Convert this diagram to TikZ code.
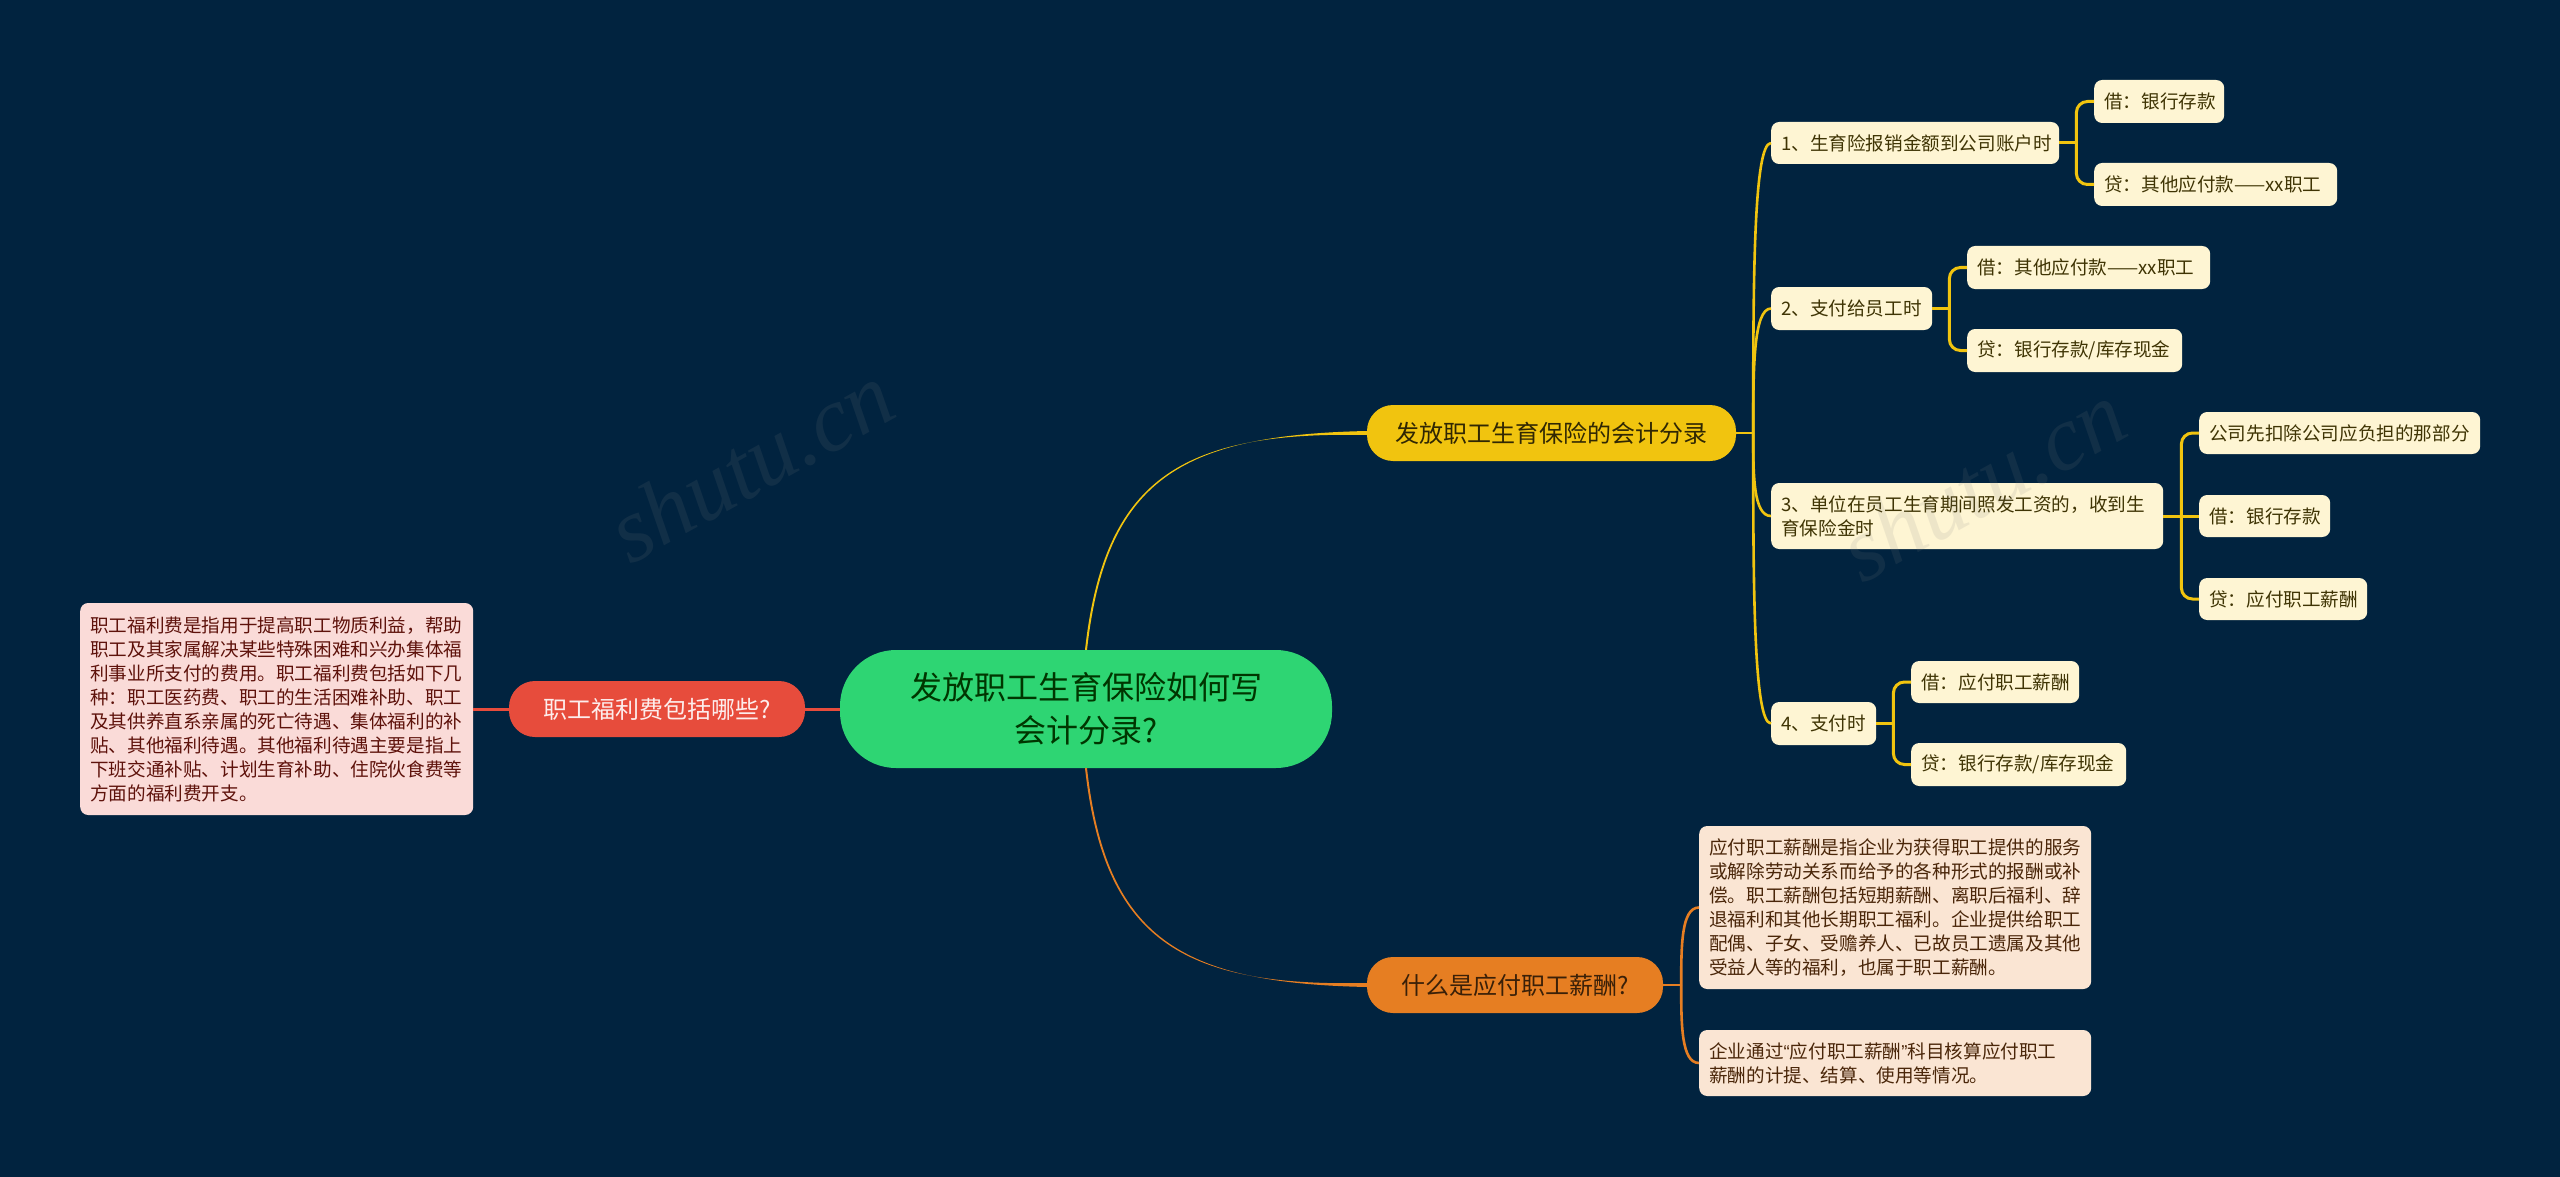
\documentclass[tikz,border=0pt]{standalone}
\usepackage{fontspec}
\usetikzlibrary{calc}
\setmainfont{Noto Sans CJK SC}
\newfontfamily\quotefont{Liberation Sans}
\newfontfamily\markfont{Liberation Serif}
\definecolor{bgc}{HTML}{01233F}
\definecolor{cgreen}{HTML}{2ED573}
\definecolor{cyellow}{HTML}{F1C40F}
\definecolor{corange}{HTML}{E67E22}
\definecolor{cred}{HTML}{E74C3C}
\definecolor{lyellow}{HTML}{FEF5D3}
\definecolor{lorange}{HTML}{FAE5D3}
\definecolor{lred}{HTML}{FADBD8}
\definecolor{tyellow}{HTML}{3F3404}
\definecolor{torange}{HTML}{4A2609}
\definecolor{tred}{HTML}{5E120B}
\tikzset{
  x=1pt,y=-1pt,
  rootnode/.style={fill=cgreen,text=black!30!green!30!black,rounded corners=56pt,align=center,inner sep=0pt,
     font=\fontsize{32}{43}\selectfont},
  pill/.style={rounded corners=26pt,align=center,inner sep=0pt,font=\fontsize{24}{30}\selectfont},
  leaf/.style={anchor=west,rounded corners=8pt,inner xsep=10pt,inner ysep=0pt,align=left,
     font=\fontsize{18.6}{24}\selectfont},
  yleaf/.style={leaf,fill=lyellow,text=tyellow},
  oleaf/.style={leaf,fill=lorange,text=torange},
  rleaf/.style={leaf,fill=lred,text=tred},
  ylink/.style={draw=cyellow,line width=3pt,rounded corners=11pt},
  olink/.style={draw=corange,line width=2.6pt},
  rlink/.style={draw=cred,line width=3pt},
  trunk/.style={draw=cyellow,line width=2.6pt},
  wmark/.style={rotate=29,text=gray,opacity=0.13,font=\markfont\fontsize{92}{92}\selectfont}
}
\begin{document}
\begin{tikzpicture}
\useasboundingbox (0,0) rectangle (2560,1177);
\fill[bgc] (0,0) rectangle (2560,1177);

% main nodes
\node[rootnode,minimum width=492pt,minimum height=118pt] (c) at (1086,709) {发放职工生育保险如何写\\会计分录?};
\node[pill,fill=cyellow,text=black!80!cyellow,minimum width=369pt,minimum height=56pt] (y) at (1551.5,433) {发放职工生育保险的会计分录};
\node[pill,fill=corange,text=black!75!corange,minimum width=296pt,minimum height=56pt] (o) at (1515,985) {什么是应付职工薪酬?};
\node[pill,fill=cred,text=white!90!cred,minimum width=296pt,minimum height=56pt] (r) at (657,709) {职工福利费包括哪些?};

% yellow leaves
\node[yleaf,text width=268pt,minimum height=42pt] (n1) at (1771,143) {1、生育险报销金额到公司账户时};
\node[yleaf,text width=110pt,minimum height=43pt] (n1a) at (2094,101.5) {借：银行存款};
\node[yleaf,text width=223pt,minimum height=43pt] (n1b) at (2094,184.5) {贷：其他应付款——xx职工};
\node[yleaf,text width=141pt,minimum height=43pt] (n2) at (1771,308.5) {2、支付给员工时};
\node[yleaf,text width=223pt,minimum height=43pt] (n2a) at (1967,267.5) {借：其他应付款——xx职工};
\node[yleaf,text width=195pt,minimum height=43pt] (n2b) at (1967,350.5) {贷：银行存款/库存现金};
\node[yleaf,text width=372pt,minimum height=66pt] (n3) at (1771,516) {3、单位在员工生育期间照发工资的，收到生\\育保险金时};
\node[yleaf,text width=261pt,minimum height=42pt] (n3a) at (2199,433) {公司先扣除公司应负担的那部分};
\node[yleaf,text width=111pt,minimum height=42pt] (n3b) at (2199,516) {借：银行存款};
\node[yleaf,text width=148pt,minimum height=42pt] (n3c) at (2199,599) {贷：应付职工薪酬};
\node[yleaf,text width=85pt,minimum height=43pt] (n4) at (1771,723.5) {4、支付时};
\node[yleaf,text width=148pt,minimum height=42pt] (n4a) at (1911,682) {借：应付职工薪酬};
\node[yleaf,text width=195pt,minimum height=43pt] (n4b) at (1911,764.5) {贷：银行存款/库存现金};

% orange and red leaves
\node[oleaf,text width=372pt,minimum height=163pt] (o1) at (1699,907.5) {应付职工薪酬是指企业为获得职工提供的服务\\或解除劳动关系而给予的各种形式的报酬或补\\偿。职工薪酬包括短期薪酬、离职后福利、辞\\退福利和其他长期职工福利。企业提供给职工\\配偶、子女、受赡养人、已故员工遗属及其他\\受益人等的福利，也属于职工薪酬。};
\node[oleaf,text width=372pt,minimum height=66pt] (o2) at (1699,1063) {企业通过{\quotefont “}应付职工薪酬{\quotefont ”}科目核算应付职工\\薪酬的计提、结算、使用等情况。};
\node[rleaf,text width=373pt,minimum height=212pt] (p) at (80,709) {职工福利费是指用于提高职工物质利益，帮助\\职工及其家属解决某些特殊困难和兴办集体福\\利事业所支付的费用。职工福利费包括如下几\\种：职工医药费、职工的生活困难补助、职工\\及其供养直系亲属的死亡待遇、集体福利的补\\贴、其他福利待遇。其他福利待遇主要是指上\\下班交通补贴、计划生育补助、住院伙食费等\\方面的福利费开支。};

% root connectors (tapered)
\fill[cyellow] ([xshift=-1pt]c.north) .. controls (1104,480) and (1180,431) .. ([yshift=-2pt]y.west)
  -- ([yshift=2pt]y.west) .. controls (1180,435) and (1106,480) .. ([xshift=1pt]c.north) -- cycle;
\fill[corange] ([xshift=-1pt]c.south) .. controls (1104,938) and (1180,987) .. ([yshift=2pt]o.west)
  -- ([yshift=-2pt]o.west) .. controls (1180,983) and (1106,938) .. ([xshift=1pt]c.south) -- cycle;
\draw[rlink] (c.west) -- (r.east);
\draw[rlink] (r.west) -- (p.east);

% yellow trunk
\coordinate (ys) at ([xshift=17pt]y.east);
\draw[trunk] (y.east) -- (ys);
\foreach \t in {n1,n2,n3,n4}
  \draw[trunk] (ys) .. controls ($(ys)!0.5!(ys|-\t.west)$) and (ys|-\t.west) .. (\t.west);

% yellow sub-branches
\coordinate (s1) at ([xshift=17pt]n1.east);
\draw[ylink] (n1a.west) -| (s1) |- (n1b.west);
\draw[ylink] (n1.east) -- (s1);
\coordinate (s2) at ([xshift=17pt]n2.east);
\draw[ylink] (n2a.west) -| (s2) |- (n2b.west);
\draw[ylink] (n2.east) -- (s2);
\coordinate (s3) at ([xshift=18pt]n3.east);
\draw[ylink] (n3a.west) -| (s3) |- (n3c.west);
\draw[ylink] (n3.east) -- (n3b.west);
\coordinate (s4) at ([xshift=17pt]n4.east);
\draw[ylink] (n4a.west) -| (s4) |- (n4b.west);
\draw[ylink] (n4.east) -- (s4);

% orange sub-branches
\coordinate (os) at ([xshift=18pt]o.east);
\draw[olink] (o.east) -- (os);
\foreach \t in {o1,o2}
  \draw[olink] (os) .. controls ($(os)!0.5!(os|-\t.west)$) and (os|-\t.west) .. (\t.west);

% watermarks
\node[wmark] (w1) at (678,503) {树图 \textit{shutu.cn}};
\node[wmark] (w2) at (1910,522) {树图 \textit{shutu.cn}};
\end{tikzpicture}
\end{document}
